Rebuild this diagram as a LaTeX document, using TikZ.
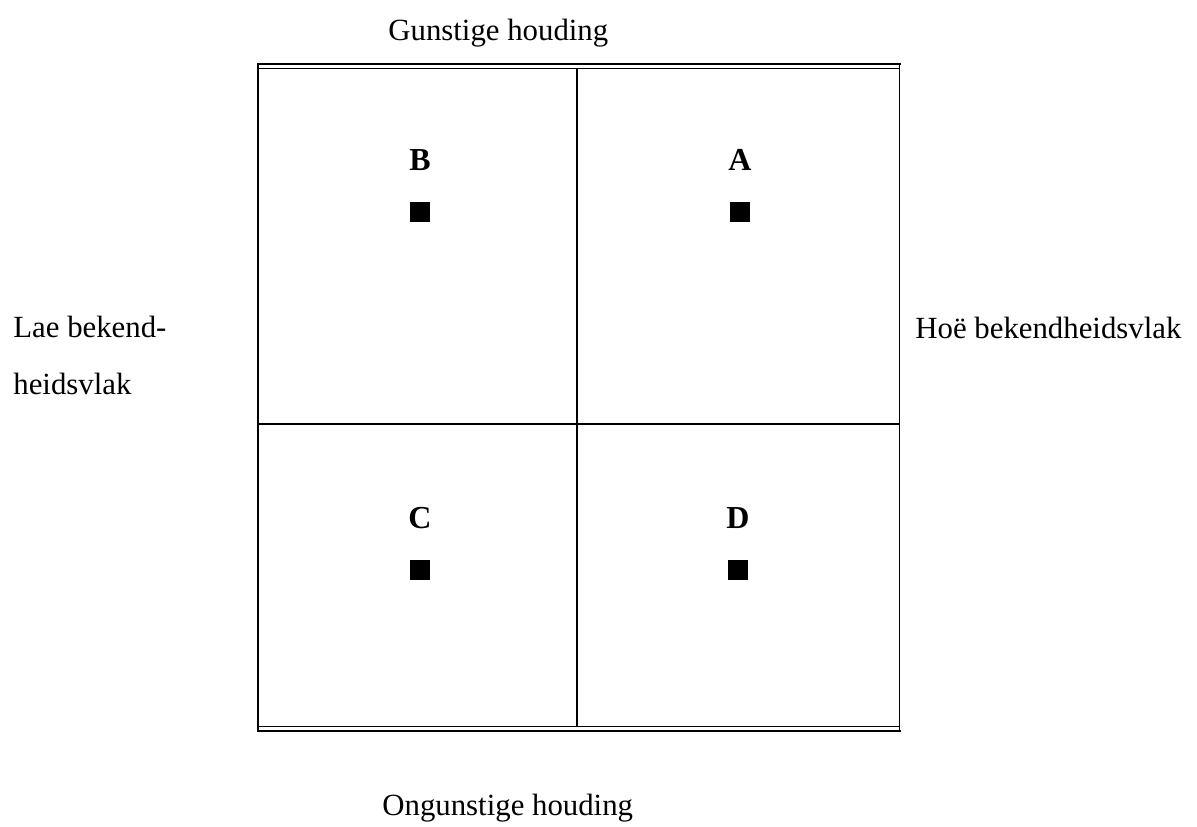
\documentclass[tikz,border=0pt]{standalone}
\usepackage{fontspec}
\setmainfont{Liberation Serif}
\usetikzlibrary{positioning}

\tikzset{
    sidetext/.style={font=\fontsize{15.4}{18}\selectfont, inner sep=0pt, anchor=base},
    quadletter/.style={font=\fontsize{16}{19}\selectfont\bfseries, inner sep=0pt, anchor=base},
    marker/.style={fill=black, draw=none, minimum size=10pt, inner sep=0pt},
    frameline/.style={line width=0.9pt}
}

\begin{document}
\begin{tikzpicture}[x=0.5pt, y=-0.5pt]
    \useasboundingbox (0,0) rectangle (1197,826);

    % Frame
    \draw[frameline] (257,64) -- (901,64);
    \draw[frameline] (257,68.5) -- (900,68.5);
    \draw[frameline] (257,726.5) -- (900,726.5);
    \draw[frameline] (257,731) -- (901,731);
    \draw[frameline] (258,64) -- (258,731);
    \draw[frameline] (899.5,64) -- (899.5,731);

    % Dividers
    \draw[frameline] (577,68.5) -- (577,726.5);
    \draw[frameline] (258,424) -- (899.5,424);

    % Quadrants
    \foreach \name/\x/\y in {B/420/170, A/740/170, C/420/528, D/738/528} {
        \node[quadletter] (lbl\name) at (\x,\y) {\name};
        \node[marker, below=16pt of lbl\name.base] (sq\name) {};
    }

    % Labels
    \node[sidetext, anchor=base west] (top) at (388,40) {Gunstige houding};
    \node[sidetext, anchor=base west] (bottom) at (382,815) {Ongunstige houding};
    \node[sidetext, anchor=base west] (left1) at (13,337) {Lae bekend-};
    \node[sidetext, anchor=base west] (left2) at (13,394) {heidsvlak};
    \node[sidetext, anchor=base west] (right) at (915,338) {Hoë bekendheidsvlak};
\end{tikzpicture}
\end{document}
